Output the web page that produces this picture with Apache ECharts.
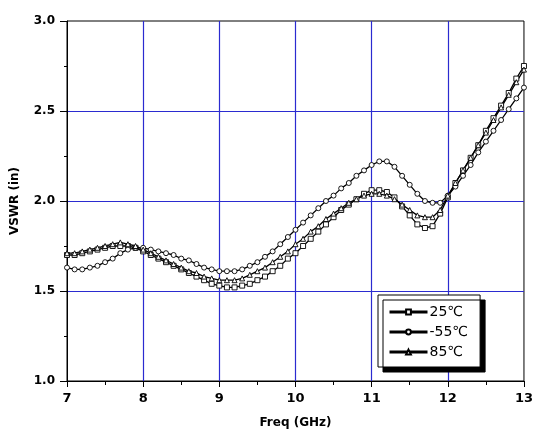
<!DOCTYPE html>
<html>
<head>
<meta charset="utf-8">
<title>VSWR vs Freq</title>
<script src="https://cdn.jsdelivr.net/npm/echarts@6/dist/echarts.min.js"></script>
<style>
  html, body { margin: 0; padding: 0; background: #ffffff; }
  #chart { width: 536px; height: 434px; }
</style>
</head>
<body>
<div id="chart"></div>
<script>
// 频率点 (GHz)
const freqs = [
  7.0, 7.1, 7.2, 7.3, 7.4, 7.5, 7.6, 7.7, 7.8, 7.9,
  8.0, 8.1, 8.2, 8.3, 8.4, 8.5, 8.6, 8.7, 8.8, 8.9,
  9.0, 9.1, 9.2, 9.3, 9.4, 9.5, 9.6, 9.7, 9.8, 9.9,
  10.0, 10.1, 10.2, 10.3, 10.4, 10.5, 10.6, 10.7, 10.8, 10.9,
  11.0, 11.1, 11.2, 11.3, 11.4, 11.5, 11.6, 11.7, 11.8, 11.9,
  12.0, 12.1, 12.2, 12.3, 12.4, 12.5, 12.6, 12.7, 12.8, 12.9,
  13.0
];

// 25℃
const vswr25 = [
  1.70, 1.70, 1.71, 1.72, 1.73, 1.74, 1.75, 1.75, 1.75, 1.74,
  1.72, 1.70, 1.68, 1.66, 1.64, 1.62, 1.60, 1.58, 1.56, 1.54,
  1.53, 1.52, 1.52, 1.53, 1.54, 1.56, 1.58, 1.61, 1.64, 1.68,
  1.71, 1.75, 1.79, 1.83, 1.87, 1.91, 1.95, 1.98, 2.01, 2.04,
  2.06, 2.06, 2.05, 2.02, 1.97, 1.92, 1.87, 1.85, 1.86, 1.93,
  2.02, 2.10, 2.17, 2.24, 2.31, 2.39, 2.46, 2.53, 2.60, 2.68,
  2.75
];

// -55℃
const vswrMinus55 = [
  1.63, 1.62, 1.62, 1.63, 1.64, 1.66, 1.68, 1.71, 1.73, 1.74,
  1.74, 1.73, 1.72, 1.71, 1.70, 1.68, 1.67, 1.65, 1.63, 1.62,
  1.61, 1.61, 1.61, 1.62, 1.64, 1.66, 1.69, 1.72, 1.76, 1.80,
  1.84, 1.88, 1.92, 1.96, 2.00, 2.03, 2.07, 2.10, 2.14, 2.17,
  2.20, 2.22, 2.22, 2.19, 2.14, 2.09, 2.04, 2.00, 1.99, 1.99,
  2.03, 2.08, 2.14, 2.20, 2.27, 2.33, 2.39, 2.45, 2.51, 2.57,
  2.63
];

// 85℃
const vswr85 = [
  1.71, 1.71, 1.72, 1.73, 1.74, 1.75, 1.76, 1.77, 1.76, 1.75,
  1.73, 1.71, 1.69, 1.67, 1.65, 1.63, 1.61, 1.60, 1.58, 1.57,
  1.56, 1.56, 1.56, 1.57, 1.59, 1.61, 1.63, 1.66, 1.69, 1.72,
  1.76, 1.79, 1.83, 1.86, 1.90, 1.93, 1.96, 1.99, 2.01, 2.03,
  2.04, 2.04, 2.03, 2.01, 1.98, 1.95, 1.92, 1.91, 1.91, 1.95,
  2.03, 2.10, 2.17, 2.24, 2.31, 2.38, 2.45, 2.52, 2.59, 2.66,
  2.73
];

const seriesNames = ['25℃', '-55℃', '85℃'];
const seriesSymbols = ['rect', 'circle', 'triangle'];
const seriesValues = [vswr25, vswrMinus55, vswr85];

const axisFont = 'DejaVu Sans';
const gridBlue = '#2b2bd0';

const myChart = echarts.init(document.getElementById('chart'), null, { renderer: 'canvas' });

const makeSeries = (i) => ({
  name: seriesNames[i],
  type: 'line',
  data: freqs.map((f, k) => [f, seriesValues[i][k]]),
  symbol: seriesSymbols[i],
  symbolSize: 5,
  showAllSymbol: true,
  lineStyle: { color: '#000', width: 1.3 },
  itemStyle: { color: '#fff', borderColor: '#000', borderWidth: 0.9 },
  emphasis: { disabled: true },
  animation: false,
});

const option = {
  backgroundColor: '#ffffff',
  grid: {
    left: 67,
    right: 7, // 462px -> 77px 每 GHz
    top: 21,
    bottom: 51,
    show: true,
    borderColor: '#000',
    borderWidth: 1,
  },
  legend: {
    orient: 'vertical',
    left: 378,
    top: 295,
    data: seriesNames,
    itemWidth: 38,
    itemHeight: 6,
    itemGap: 6,
    padding: [10, 12, 8, 10],
    backgroundColor: '#fff',
    borderColor: '#000',
    borderWidth: 1,
    borderRadius: 0,
    shadowColor: '#000',
    shadowBlur: 0,
    shadowOffsetX: 5,
    shadowOffsetY: 5,
    lineStyle: { width: 3 },
    textStyle: { fontFamily: axisFont, fontSize: 14, color: '#000', padding: [0, 0, 0, -3] },
  },
  xAxis: {
    type: 'value',
    min: 7,
    max: 13,
    interval: 1,
    name: 'Freq (GHz)',
    nameLocation: 'middle',
    nameGap: 36,
    nameTextStyle: { fontFamily: axisFont, fontWeight: 'bold', fontSize: 12, color: '#000' },
    axisLine: { show: true, lineStyle: { color: '#000', width: 1 } },
    axisTick: { show: true, length: 6, lineStyle: { color: '#000' } },
    minorTick: { show: true, splitNumber: 2, length: 4, lineStyle: { color: '#000' } },
    axisLabel: { fontFamily: axisFont, fontWeight: 'bold', fontSize: 13, color: '#000', margin: 11 },
    splitLine: { show: true, showMinLine: false, showMaxLine: false, lineStyle: { color: gridBlue, width: 1.2 } },
  },
  yAxis: {
    type: 'value',
    min: 1.0,
    max: 3.0,
    interval: 0.5,
    name: 'VSWR (in)',
    nameLocation: 'middle',
    nameGap: 46,
    nameTextStyle: { fontFamily: axisFont, fontWeight: 'bold', fontSize: 12, color: '#000' },
    axisLine: { show: true, lineStyle: { color: '#000', width: 1 } },
    axisTick: { show: true, length: 7, lineStyle: { color: '#000' } },
    minorTick: { show: true, splitNumber: 2, length: 3, lineStyle: { color: '#000' } },
    axisLabel: {
      fontFamily: axisFont, fontWeight: 'bold', fontSize: 12, color: '#000', margin: 12,
      formatter: (v) => v.toFixed(1),
    },
    splitLine: { show: true, showMinLine: false, showMaxLine: false, lineStyle: { color: gridBlue, width: 1.2 } },
  },
  series: [makeSeries(0), makeSeries(1), makeSeries(2)],
  animation: false,
};

myChart.setOption(option);
</script>
</body>
</html>
